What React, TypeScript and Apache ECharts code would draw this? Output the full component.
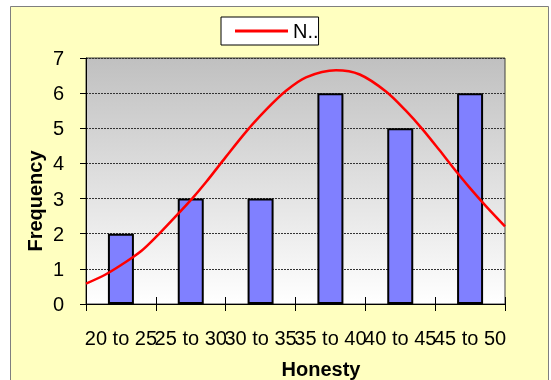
import React, { useEffect, useRef } from "react";
import * as echarts from "echarts";

// Honesty score bands and how many people fell in each
const bands = ["20 to 25", "25 to 30", "30 to 35", "35 to 40", "40 to 45", "45 to 50"];
const frequency = [2, 3, 3, 6, 5, 6];

// Fitted normal curve, sampled along the honesty score
const curveScore = [20, 21.4, 22.9, 24, 25, 26.2, 27.6, 28.6, 30, 31.5, 32.9, 34.3, 35.75, 37.9, 39.6, 41.5, 42.9, 44.1, 45.3, 46.25, 47.45, 48.65, 50];
const curveValue = [0.58, 0.84, 1.21, 1.52, 1.9, 2.4, 3.0, 3.47, 4.18, 4.92, 5.53, 6.06, 6.45, 6.65, 6.53, 6.04, 5.5, 4.97, 4.38, 3.9, 3.32, 2.78, 2.21];

const yTicks = { min: 0, max: 7, interval: 1 };

const FONT = 'Arial, "Liberation Sans", sans-serif';

// Plot rectangle in pixels
const PLOT = { left: 86, top: 58, right: 505, bottom: 304 };

export default function App() {
  const ref = useRef<HTMLDivElement>(null);

  useEffect(() => {
    if (!ref.current) return;
    const chart = echarts.init(ref.current, undefined, { renderer: "svg" });

    const curve = curveScore.map((s, i) => [s, curveValue[i]]);

    chart.setOption({
      animation: false,
      graphic: [
        {
          type: "rect",
          z: -10,
          silent: true,
          shape: { x: 10.5, y: 6.5, width: 538, height: 390 },
          style: { fill: "#FFFFC0", stroke: "#7f7f7f", lineWidth: 1 },
        },
        {
          type: "rect",
          z: -9,
          silent: true,
          shape: {
            x: PLOT.left,
            y: PLOT.top,
            width: PLOT.right - PLOT.left,
            height: PLOT.bottom - PLOT.top,
          },
          style: {
            fill: new echarts.graphic.LinearGradient(0, 0, 0, 1, [
              { offset: 0, color: "#C0C0C0" },
              { offset: 1, color: "#FFFFFF" },
            ]),
          },
        },
        {
          type: "text",
          x: 35,
          y: 201,
          rotation: Math.PI / 2,
          style: {
            text: "Frequency",
            font: `bold 20px ${FONT}`,
            fill: "#000",
            align: "center",
            verticalAlign: "middle",
          },
        },
        {
          type: "text",
          x: 321,
          y: 369,
          style: {
            text: "Honesty",
            font: `bold 20px ${FONT}`,
            fill: "#000",
            align: "center",
            verticalAlign: "middle",
          },
        },
      ],
      legend: {
        data: [{ name: "N..", icon: "rect" }],
        left: 221,
        top: 17,
        padding: [4, 0, 4, 14],
        itemWidth: 53,
        itemHeight: 3,
        itemGap: 0,
        itemStyle: { color: "#FF0000", borderWidth: 0 },
        backgroundColor: "#ffffff",
        borderColor: "#000000",
        borderWidth: 1,
        borderRadius: 0,
        textStyle: { fontSize: 20, fontFamily: FONT, color: "#000", width: 18, overflow: "none", lineHeight: 20 },
      },
      grid: {
        left: PLOT.left,
        right: 551 - PLOT.right,
        top: PLOT.top,
        bottom: 380 - PLOT.bottom,
        show: true,
        borderColor: "#404040",
        borderWidth: 1,
        backgroundColor: "transparent",
      },
      xAxis: [
        {
          type: "category",
          data: bands,
          position: "bottom",
          boundaryGap: true,
          axisLine: { lineStyle: { color: "#000", width: 1 } },
          axisTick: { show: true, inside: false, length: 7, lineStyle: { color: "#000" } },
          axisLabel: {
            interval: 0,
            hideOverlap: false,
            fontSize: 20,
            fontFamily: FONT,
            color: "#000",
            margin: 24,
          },
          splitLine: { show: false },
        },
        {
          type: "value",
          min: 20,
          max: 50,
          interval: 5,
          position: "bottom",
          axisLine: { show: false },
          axisTick: { show: true, inside: true, length: 7, lineStyle: { color: "#000" } },
          axisLabel: { show: false },
          splitLine: { show: false },
        },
      ],
      yAxis: {
        type: "value",
        min: yTicks.min,
        max: yTicks.max,
        interval: yTicks.interval,
        axisLine: { show: true, lineStyle: { color: "#000", width: 1 } },
        axisTick: { show: true, inside: false, length: 6, lineStyle: { color: "#000" } },
        axisLabel: { fontSize: 20, fontFamily: FONT, color: "#000", margin: 22 },
        splitLine: { show: true, lineStyle: { color: "#333", width: 1, type: [2, 1] } },
      },
      series: [
        {
          name: "Frequency",
          type: "bar",
          xAxisIndex: 0,
          yAxisIndex: 0,
          data: frequency,
          barWidth: 26,
          itemStyle: { color: "#8080FF", borderColor: "#000", borderWidth: 2 },
        },
        {
          name: "N..",
          type: "line",
          xAxisIndex: 1,
          yAxisIndex: 0,
          data: curve,
          smooth: 0.3,
          symbol: "none",
          lineStyle: { color: "#FF0000", width: 2.5 },
          itemStyle: { color: "#FF0000" },
          z: 5,
        },
      ],
    });

    return () => chart.dispose();
  }, []);

  return (
    <div
      ref={ref}
      style={{ position: "fixed", left: 0, top: 0, width: 551, height: 380 }}
    />
  );
}
